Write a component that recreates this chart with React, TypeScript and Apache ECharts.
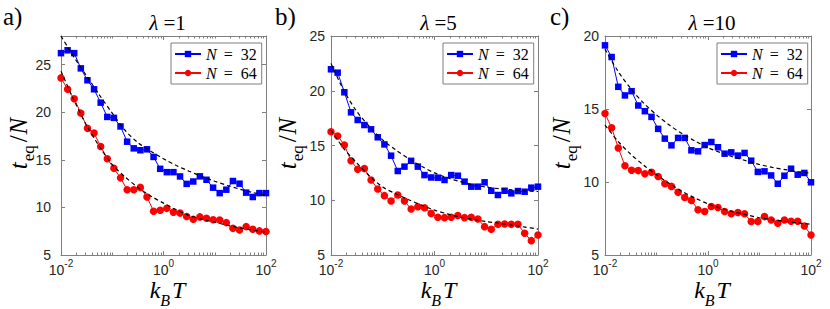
import React, { useEffect, useRef } from 'react';
import * as echarts from 'echarts';

// k_B T values (log-spaced sample temperatures)
const kT = [
  0.01, 0.013459, 0.018114, 0.02438, 0.032813, 0.044163, 0.059439, 0.08,
  0.1077, 0.14495, 0.1951, 0.26258, 0.35341, 0.47566, 0.64019, 0.86164,
  1.1606, 1.562, 2.1024, 2.8296, 3.8084, 5.1257, 6.8986, 9.2849,
  12.497, 16.819, 22.637, 30.468, 41.008, 55.193, 74.285, 100,
];

// panel a) lambda = 1
const a32 = [26.2, 26.5, 26.2, 24.6, 23.35, 22.4, 21.0, 19.5, 19.4, 18.5, 16.9, 16.2, 16.0, 16.1, 15.3, 14.05, 13.7, 13.7, 13.25, 12.47, 12.72, 13.26, 12.9, 12.07, 11.5, 11.86, 12.77, 12.49, 11.55, 11.09, 11.5, 11.5];
const a64 = [23.6, 22.4, 21.4, 19.9, 18.3, 17.8, 16.4, 15.1, 14.1, 13.1, 11.85, 11.85, 12.1, 11.1, 9.6, 9.7, 9.9, 9.5, 9.4, 9.05, 8.76, 9.0, 8.86, 8.7, 8.68, 8.4, 7.8, 7.63, 7.98, 7.7, 7.53, 7.46];
// panel b) lambda = 5
const b32 = [21.96, 21.65, 19.86, 18.03, 17.33, 16.87, 16.48, 15.75, 15.1, 14.07, 12.67, 13.07, 13.6, 13.07, 12.3, 12.08, 12.06, 11.85, 12.3, 12.24, 11.7, 11.24, 11.24, 11.64, 10.87, 10.48, 10.87, 10.63, 10.84, 10.78, 11.15, 11.24];
const b64 = [16.26, 15.87, 15.05, 13.6, 12.82, 12.9, 11.85, 11.03, 10.42, 9.93, 10.48, 9.93, 9.2, 9.41, 9.32, 8.8, 8.44, 8.41, 8.44, 8.6, 8.41, 8.44, 8.29, 7.59, 7.35, 7.8, 7.83, 7.8, 7.8, 6.98, 6.31, 6.83];
// panel c) lambda = 10
const c32 = [19.36, 18.56, 16.52, 15.93, 16.22, 15.24, 14.85, 14.46, 13.64, 12.97, 12.51, 13.02, 13.02, 12.17, 12.1, 12.53, 12.74, 12.38, 11.94, 12.03, 11.81, 11.99, 11.46, 10.69, 10.73, 10.45, 9.88, 10.43, 10.91, 10.5, 10.62, 9.98];
const c64 = [14.69, 13.71, 12.33, 11.11, 10.8, 10.78, 10.57, 10.66, 10.38, 9.88, 9.7, 9.29, 8.94, 8.74, 8.1, 7.98, 8.32, 8.25, 7.98, 7.82, 7.91, 7.82, 7.29, 7.29, 7.63, 7.4, 7.18, 7.4, 7.31, 7.31, 6.99, 6.37];

// fitted curves (dashed), read every quarter decade of k_B T
const fitKT = [0.01, 0.017783, 0.031623, 0.056234, 0.1, 0.17783, 0.31623, 0.56234, 1, 1.7783, 3.1623, 5.6234, 10, 17.783, 31.623, 56.234, 100];
const fitA32 = [28.0, 25.8, 23.8, 21.8, 19.9, 18.1, 16.8, 15.9, 15.1, 14.4, 13.8, 13.25, 12.75, 12.3, 11.9, 11.55, 11.25];
const fitA64 = [24.3, 21.3, 18.6, 16.4, 14.5, 13.2, 12.1, 11.2, 10.45, 9.75, 9.15, 8.75, 8.45, 8.12, 7.85, 7.6, 7.4];
const fitB32 = [22.5, 20.0, 18.1, 16.7, 15.5, 14.6, 13.8, 13.1, 12.5, 12.05, 11.7, 11.4, 11.2, 11.05, 10.95, 10.85, 10.8];
const fitB64 = [16.4, 14.7, 13.4, 12.2, 11.2, 10.6, 10.05, 9.55, 9.1, 8.75, 8.45, 8.25, 8.05, 7.9, 7.72, 7.55, 7.37];
const fitC32 = [19.1, 17.6, 16.4, 15.4, 14.6, 13.9, 13.3, 12.8, 12.35, 12.0, 11.7, 11.45, 11.2, 11.0, 10.85, 10.7, 10.6];
const fitC64 = [13.9, 12.8, 11.9, 11.15, 10.5, 9.9, 9.35, 8.9, 8.5, 8.2, 7.95, 7.75, 7.55, 7.42, 7.3, 7.2, 7.1];

const lambdas = ['1', '5', '10'];
const panelLetters = ['a)', 'b)', 'c)'];
const yMaxes = [28, 25, 20];
const yTickValues = [[5, 10, 15, 20, 25], [5, 10, 15, 20, 25], [5, 10, 15, 20]];
const legendNames = ['N = 32', 'N = 64'];

const data32 = [a32, b32, c32];
const data64 = [a64, b64, c64];
const fits32 = [fitA32, fitB32, fitC32];
const fits64 = [fitA64, fitB64, fitC64];

const SERIF = 'Liberation Serif';
const SANS = 'Liberation Sans';
const AX = '#7f7f7f';
const TXT = '#262626';

const grids = [
  { left: 61, top: 36, width: 205, height: 219 },
  { left: 331, top: 36, width: 207, height: 219 },
  { left: 605, top: 36, width: 206, height: 219 },
];
const legendLefts = [171, 443, 717];
const yLabelX = [18, 287, 561];
const letterX = [3, 275, 550];
const yLabelMargins = [10, 6, 6];

const minorExp: number[] = [];
for (let k = -2; k < 2; k++) {
  for (let m = 1; m <= 9; m++) {
    if (m === 1 && (k === -2 || k === 0)) continue;
    minorExp.push(Math.log10(m * Math.pow(10, k)));
  }
}

export default function App() {
  const ref = useRef<HTMLDivElement>(null);
  useEffect(() => {
    document.body.style.margin = '0';
    if (!ref.current) return;
    const chart = echarts.init(ref.current, undefined, { renderer: 'svg' });

    const xAxis: any[] = [];
    const yAxis: any[] = [];
    const series: any[] = [];
    const graphic: any[] = [];

    grids.forEach((g, k) => {
      const common = {
        gridIndex: k, type: 'value', min: -2, max: 2, splitLine: { show: false },
      };
      xAxis.push({
        ...common, interval: 2, position: 'bottom',
        axisLine: { show: true, onZero: false, lineStyle: { color: AX, width: 1 } },
        axisTick: { show: true, inside: true, length: 4, lineStyle: { color: AX } },
        axisLabel: {
          show: true, margin: 3, showMinLabel: true, showMaxLabel: true,
          formatter: (v: number) => `{b|10}{s|${v}}`,
          rich: {
            b: { fontFamily: SANS, fontSize: 14, color: TXT, lineHeight: 14, padding: [5, 0, 0, 0], verticalAlign: 'top' },
            s: { fontFamily: SANS, fontSize: 10, color: TXT, lineHeight: 10, verticalAlign: 'top' },
          },
        },
      });
      xAxis.push({
        ...common, position: 'bottom',
        axisLine: { show: false, onZero: false },
        axisLabel: { show: false },
        axisTick: { show: true, inside: true, length: 2.5, customValues: minorExp, lineStyle: { color: AX } },
      });
      xAxis.push({
        ...common, interval: 2, position: 'top',
        axisLine: { show: true, onZero: false, lineStyle: { color: AX, width: 1 } },
        axisTick: { show: true, inside: true, length: 4, lineStyle: { color: AX } },
        axisLabel: { show: false },
      });
      xAxis.push({
        ...common, position: 'top',
        axisLine: { show: false, onZero: false },
        axisLabel: { show: false },
        axisTick: { show: true, inside: true, length: 2.5, customValues: minorExp, lineStyle: { color: AX } },
      });

      yAxis.push({
        gridIndex: k, type: 'value', min: 5, max: yMaxes[k], position: 'left',
        splitLine: { show: false },
        axisLine: { show: true, onZero: false, lineStyle: { color: AX, width: 1 } },
        axisTick: { show: true, inside: true, length: 4, customValues: yTickValues[k], lineStyle: { color: AX } },
        axisLabel: {
          show: true, customValues: yTickValues[k], margin: yLabelMargins[k],
          fontFamily: SANS, fontSize: 14, color: TXT,
        },
      });
      yAxis.push({
        gridIndex: k, type: 'value', min: 5, max: yMaxes[k], position: 'right',
        splitLine: { show: false },
        axisLine: { show: true, onZero: false, lineStyle: { color: AX, width: 1 } },
        axisTick: { show: true, inside: true, length: 4, customValues: yTickValues[k], lineStyle: { color: AX } },
        axisLabel: { show: false },
      });

      series.push({
        type: 'line', name: legendNames[0], xAxisIndex: 4 * k, yAxisIndex: 2 * k,
        data: kT.map((x, i) => [Math.log10(x), data32[k][i]]),
        symbol: 'rect', symbolSize: 6.5,
        itemStyle: { color: '#0000ff' }, lineStyle: { color: '#0000ff', width: 1 }, z: 2,
      });
      series.push({
        type: 'line', name: legendNames[1], xAxisIndex: 4 * k, yAxisIndex: 2 * k,
        data: kT.map((x, i) => [Math.log10(x), data64[k][i]]),
        symbol: 'circle', symbolSize: 7.5,
        itemStyle: { color: '#ff0000' }, lineStyle: { color: '#ff0000', width: 1 }, z: 2,
      });
      [fits32[k], fits64[k]].forEach((f, j) => {
        series.push({
          type: 'line', name: `fit${k}${j}`, xAxisIndex: 4 * k, yAxisIndex: 2 * k,
          data: fitKT.map((x, i) => [Math.log10(x), f[i]]),
          symbol: 'none', smooth: 0.3,
          lineStyle: { color: '#000', width: 1.2, type: [4, 3] }, z: 3,
        });
      });

      const cx = g.left + g.width / 2;
      graphic.push({
        type: 'text', x: letterX[k], y: 4,
        style: { text: panelLetters[k], fontFamily: SERIF, fontSize: 25, fill: '#000' },
      });
      graphic.push({
        type: 'text', x: cx + 4, y: 23,
        style: {
          text: `{i|λ }{n|=${lambdas[k]}}`, fill: '#000',
          textAlign: 'center', textVerticalAlign: 'middle', align: 'center', verticalAlign: 'middle',
          rich: {
            i: { fontFamily: SERIF, fontStyle: 'italic', fontSize: 21, fill: '#000' },
            n: { fontFamily: SERIF, fontSize: 21, fill: '#000' },
          },
        },
      });
      graphic.push({
        type: 'text', x: cx + 4, y: 290,
        style: {
          text: '{i|k}{s|B}{i|T}', fill: '#000',
          textAlign: 'center', textVerticalAlign: 'middle', align: 'center', verticalAlign: 'middle',
          rich: {
            i: { fontFamily: SERIF, fontStyle: 'italic', fontSize: 24, lineHeight: 24, verticalAlign: 'top', fill: '#000' },
            s: { fontFamily: SERIF, fontStyle: 'italic', fontSize: 16, lineHeight: 16, padding: [14, 2, 0, 0], verticalAlign: 'top', fill: '#000' },
          },
        },
      });
      graphic.push({
        type: 'text', x: yLabelX[k], y: g.top + g.height / 2 - 2, rotation: Math.PI / 2,
        style: {
          text: '{i|t}{s|eq}{n|/}{i|N}', fill: '#000',
          textAlign: 'center', textVerticalAlign: 'middle', align: 'center', verticalAlign: 'middle',
          rich: {
            i: { fontFamily: SERIF, fontStyle: 'italic', fontSize: 25, lineHeight: 25, verticalAlign: 'top', fill: '#000' },
            n: { fontFamily: SERIF, fontSize: 25, lineHeight: 25, padding: [0, 1, 0, 1], verticalAlign: 'top', fill: '#000' },
            s: { fontFamily: SERIF, fontSize: 17, lineHeight: 17, padding: [14, 2, 0, 1], verticalAlign: 'top', fill: '#000' },
          },
        },
      });
    });

    const legend = grids.map((g, k) => ({
      orient: 'vertical', left: legendLefts[k], top: 43,
      data: legendNames, itemWidth: 26, itemHeight: 8, itemGap: 3,
      padding: [3, 5, 3, 3], borderColor: AX, borderWidth: 1, borderRadius: 0,
      backgroundColor: '#fff', selectedMode: false,
      formatter: (n: string) => `{i|N}{m|=}{n|${n.slice(4)}}`,
      textStyle: {
        fontFamily: SERIF, fontSize: 16, color: '#000', lineHeight: 16,
        rich: {
          i: { fontFamily: SERIF, fontStyle: 'italic', fontSize: 16, color: '#000' },
          m: { fontFamily: SERIF, fontSize: 16, color: '#000', padding: [0, 8, 0, 7] },
          n: { fontFamily: SERIF, fontSize: 16, color: '#000' },
        },
      },
    }));

    chart.setOption({
      animation: false,
      backgroundColor: '#fff',
      grid: grids,
      xAxis, yAxis, series, legend, graphic,
    });
    return () => chart.dispose();
  }, []);
  return <div ref={ref} style={{ width: 830, height: 309 }} />;
}
